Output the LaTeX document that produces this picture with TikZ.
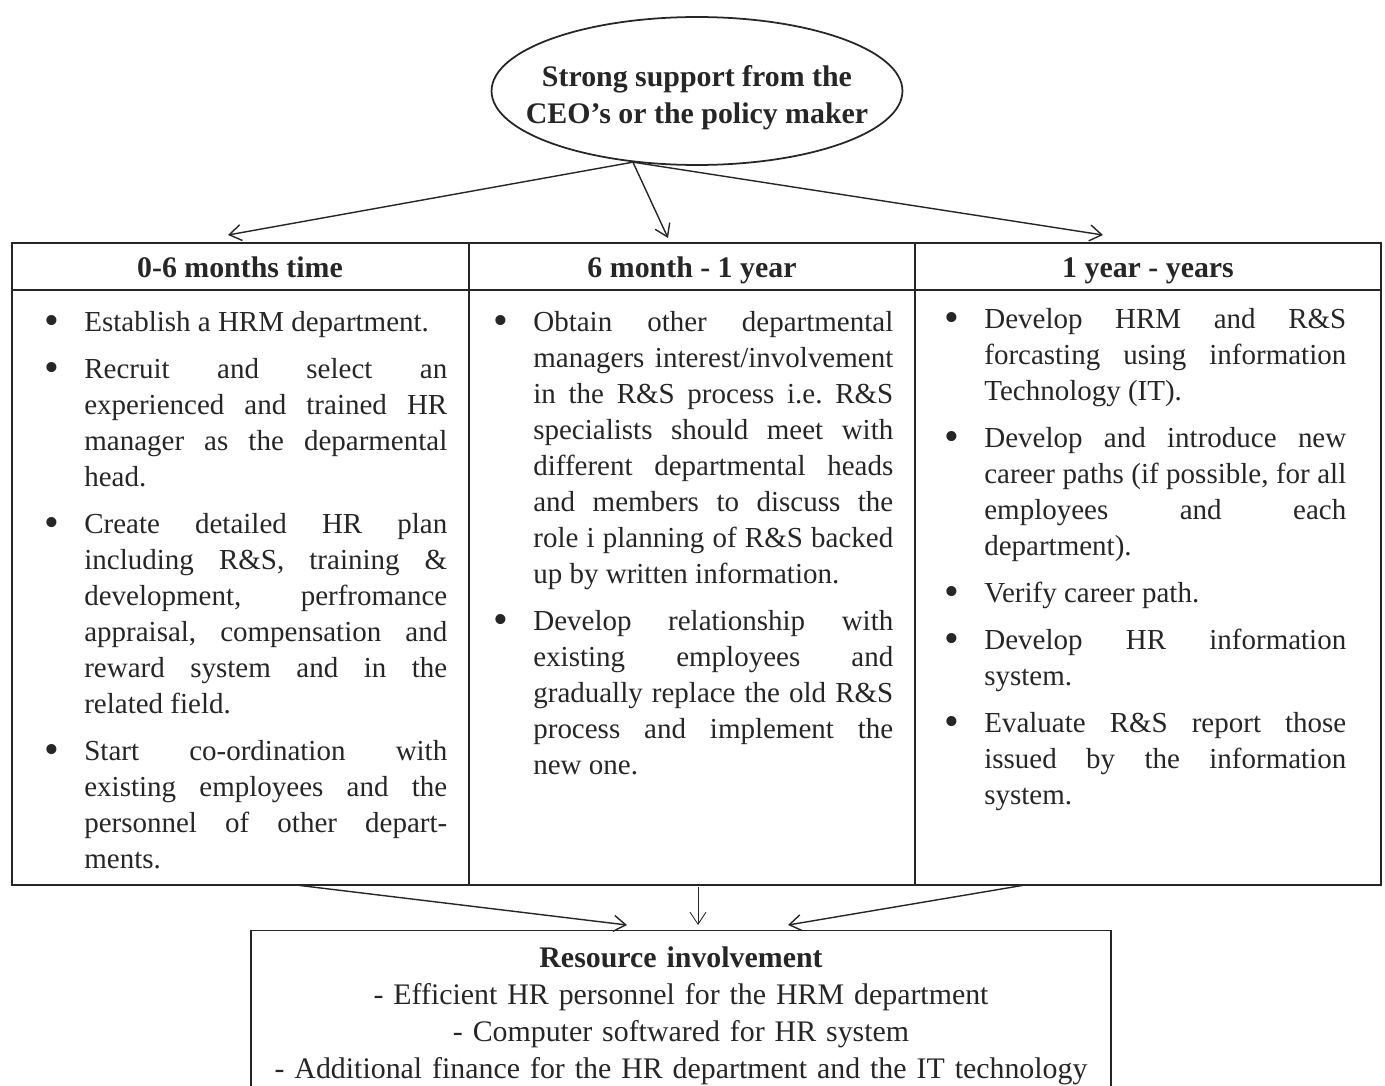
\documentclass[tikz,border=0pt]{standalone}
\usepackage{fontspec}
\setmainfont{Liberation Serif}
\usetikzlibrary{
  shapes.geometric,
  positioning,
  arrows.meta
}

\newenvironment{steplist}{%
  \begin{list}{\raisebox{-1.6pt}{\fontsize{24}{24}\selectfont\textbullet}}{%
    \setlength{\leftmargin}{0.72cm}%
    \setlength{\labelwidth}{0.3cm}%
    \setlength{\labelsep}{0.5cm}%
    \setlength{\itemsep}{0.22cm}%
    \setlength{\parsep}{0pt}%
    \setlength{\topsep}{0pt}%
    \setlength{\partopsep}{0pt}}}%
  {\end{list}}
\newcommand{\colitems}[2]{%
  \begin{minipage}[t]{#1}\begin{steplist}#2\end{steplist}\end{minipage}}
\newcommand{\bodyfont}{\fontsize{16.5}{20.5}\selectfont
  \frenchspacing\hyphenpenalty=10000\tolerance=10000}

\begin{document}
\begin{tikzpicture}[x=0.02cm,y=-0.02cm,
  every node/.style={inner sep=0pt,text=black!85},
  ceonode/.style={ellipse,draw=black!85,line width=1pt,inner xsep=-1cm,
    inner ysep=-0.3cm,minimum width=8.22cm,minimum height=2.96cm,
    align=center,font=\fontsize{17}{21}\selectfont\bfseries},
  headnode/.style={anchor=base,font=\fontsize{17}{20}\selectfont\bfseries},
  bodynode/.style={anchor=north west,font=\bodyfont},
  resnode/.style={draw=black!85,line width=0.8pt,anchor=north,text width=17.2cm,
    minimum height=3.22cm,align=center,font=\fontsize{17}{21}\selectfont},
  frame/.style={draw=black!85,line width=0.8pt},
  arr/.style={draw=black!85,line width=0.8pt,
    -{Straight Barb[length=2.4mm,width=3.2mm]}}]
  \useasboundingbox (0,0) rectangle (1385,1085);

  % top oval
  \node[ceonode] (ceo) at (697,91)
    {\rule{0pt}{20pt}Strong support from the\\CEO's or the policy maker};

  % table frame
  \draw[frame] (12,243) rectangle (1381,885);
  \draw[frame] (12,290) -- (1381,290);
  \draw[frame] (469,243) -- (469,885);
  \draw[frame] (915,243) -- (915,885);

  % column heads
  \node[headnode] (headA) at (240,277) {0-6 months time};
  \node[headnode] (headB) at (692,277) {6 month - 1 year};
  \node[headnode] (headC) at (1148,277) {1 year - years};

  % column bodies
  \node[bodynode] (bodyA) at (48,311) {\colitems{7.98cm}{%
    \item Establish a HRM department.
    \item Recruit and select an\linebreak experienced and trained HR\linebreak
      manager as the deparmental\linebreak head.
    \item Create detailed HR plan\linebreak including R\&S, training \&\linebreak
      development, perfromance\linebreak appraisal, compensation and\linebreak
      reward system and in the\linebreak related field.
    \item Start co-ordination with\linebreak existing employees and the\linebreak
      personnel of other depart-\linebreak ments.}};
  \node[bodynode] (bodyB) at (497,311) {\colitems{7.92cm}{%
    \item Obtain other departmental\linebreak managers interest/involvement\linebreak
      in the R\&S process i.e. R\&S\linebreak specialists should meet with\linebreak
      different departmental heads\linebreak and members to discuss the\linebreak
      role i planning of R\&S backed\linebreak up by written information.
    \item Develop relationship with\linebreak existing employees and\linebreak
      gradually replace the old R\&S\linebreak process and implement the\linebreak
      new one.}};
  \node[bodynode] (bodyC) at (948,308) {\colitems{7.96cm}{%
    \item Develop HRM and R\&S\linebreak forcasting using information\linebreak
      Technology (IT).
    \item Develop and introduce new\linebreak career paths (if possible, for all\linebreak
      employees and each\linebreak department).
    \item Verify career path.
    \item Develop HR information\linebreak system.
    \item Evaluate R\&S report those\linebreak issued by the information\linebreak
      system.}};

  % bottom box
  \node[resnode] (res) at (681,930) {\rule{0pt}{17pt}\textbf{Resource involvement}\\
    - Efficient HR personnel for the HRM department\\
    - Computer softwared for HR system\\
    - Additional finance for the HR department and the IT technology};

  % arrow ends
  \coordinate (tipA) at (228,235);
  \coordinate (tipB) at (668,238);
  \coordinate (tipC) at (1103,235);
  \coordinate (outA) at (296,885);
  \coordinate (outB) at (698,887);
  \coordinate (outC) at (1025,885);
  \coordinate (inA) at (627,925);
  \coordinate (inB) at (698,925);
  \coordinate (inC) at (788,925);

  \draw[arr] (ceo.228) -- (tipA);
  \draw[arr] (ceo.228) -- (tipB);
  \draw[arr] (ceo.228) -- (tipC);
  \draw[arr] (outA) -- (inA);
  \draw[arr,line width=0.5pt] (outB) -- (inB);
  \draw[arr] (outC) -- (inC);
\end{tikzpicture}
\end{document}
